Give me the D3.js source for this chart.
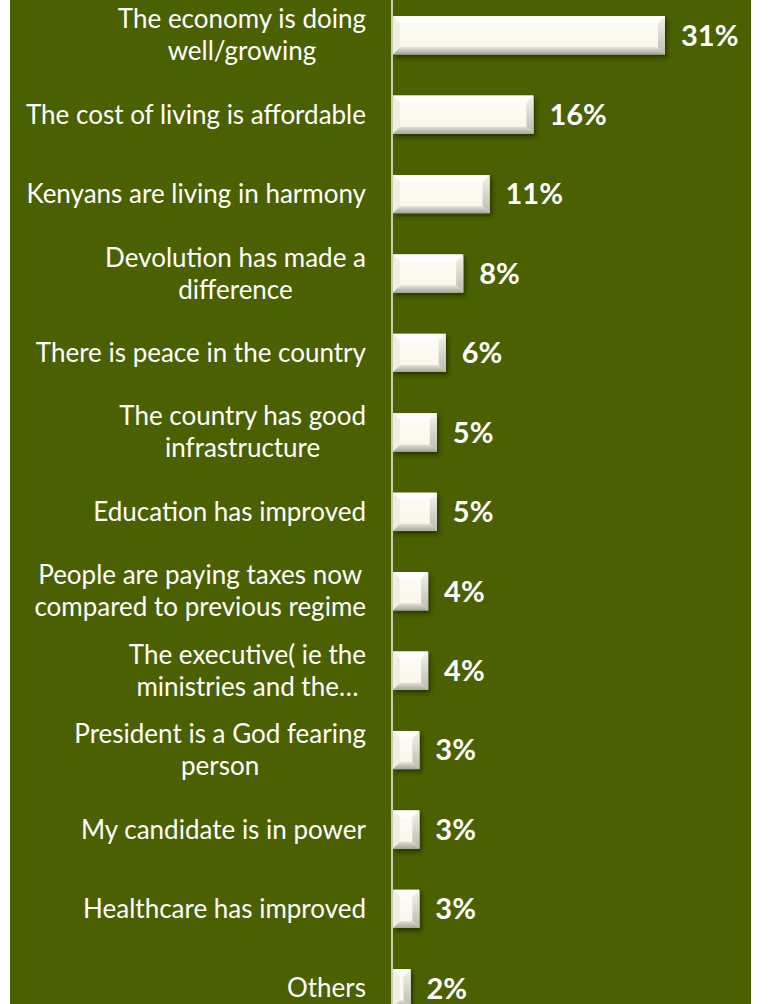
<!DOCTYPE html>
<html>
<head>
<meta charset="utf-8">
<script src="https://cdn.jsdelivr.net/npm/d3@7"></script>
<style>
  html, body { margin: 0; padding: 0; background: #ffffff; }
  svg { display: block; }
</style>
</head>
<body>
<svg id="chart" width="769" height="1004"></svg>
<script>
// Reasons given for the country heading in the right direction
const categories = [
  ["The economy is doing", "well/growing"],
  ["The cost of living is affordable"],
  ["Kenyans are living in harmony"],
  ["Devolution has made a", "difference"],
  ["There is peace in the country"],
  ["The country has good", "infrastructure"],
  ["Education has improved"],
  ["People are paying taxes now", "compared to previous regime"],
  ["The executive( ie the", "ministries and the\u2026"],
  ["President is a God fearing", "person"],
  ["My candidate is in power"],
  ["Healthcare has improved"],
  ["Others"]
];
const values = [31, 16, 11, 8, 6, 5, 5, 4, 4, 3, 3, 3, 2];
const valueLabels = ["31%", "16%", "11%", "8%", "6%", "5%", "5%", "4%", "4%", "3%", "3%", "3%", "2%"];

const W = 769, H = 1004;
const panelLeft = 10, panelRight = 751;
const axisX = 392;
const labelRight = 366;

const svg = d3.select("#chart");
const defs = svg.append("defs");

// drop shadow under each bar
const shadow = defs.append("filter").attr("id", "barShadow")
  .attr("x", "-20%").attr("y", "-40%").attr("width", "140%").attr("height", "200%");
shadow.append("feDropShadow")
  .attr("dx", 2).attr("dy", 3).attr("stdDeviation", 2)
  .attr("flood-color", "#1f2a00").attr("flood-opacity", 0.75);

// bevel gradients
const gRight = defs.append("linearGradient").attr("id", "bevRight")
  .attr("x1", 0).attr("y1", 0).attr("x2", 0).attr("y2", 1);
gRight.append("stop").attr("offset", "0%").attr("stop-color", "#f4f2ea");
gRight.append("stop").attr("offset", "100%").attr("stop-color", "#bdbab0");
const gBottom = defs.append("linearGradient").attr("id", "bevBottom")
  .attr("x1", 0).attr("y1", 0).attr("x2", 0).attr("y2", 1);
gBottom.append("stop").attr("offset", "0%").attr("stop-color", "#e4e1d6");
gBottom.append("stop").attr("offset", "100%").attr("stop-color", "#a8a59a");
const gFace = defs.append("linearGradient").attr("id", "face")
  .attr("x1", 0).attr("y1", 0).attr("x2", 0).attr("y2", 1);
gFace.append("stop").attr("offset", "0%").attr("stop-color", "#fdfcf6");
gFace.append("stop").attr("offset", "100%").attr("stop-color", "#f8f5ea");

// background panel
svg.append("rect")
  .attr("x", panelLeft).attr("y", 0)
  .attr("width", panelRight - panelLeft).attr("height", H)
  .attr("fill", "#4b6000");

const x = d3.scaleLinear().domain([0, 31]).range([axisX + 1, 665]);
const y = d3.scaleBand()
  .domain(d3.range(categories.length))
  .range([-4.5, 1028])
  .paddingInner(0.52)
  .paddingOuter(0.26);

const bars = svg.append("g");
const bevel = 7;

values.forEach((v, i) => {
  const x0 = x(0), x1 = x(v);
  const y0 = y(i), y1 = y(i) + y.bandwidth();
  const b = Math.min(bevel, (x1 - x0) / 2);
  const g = bars.append("g").attr("filter", "url(#barShadow)");
  g.append("rect").attr("x", x0).attr("y", y0)
    .attr("width", x1 - x0).attr("height", y1 - y0).attr("fill", "url(#face)");
  const poly = (pts, fill) => g.append("polygon")
    .attr("points", pts.map(p => p.join(",")).join(" ")).attr("fill", fill);
  poly([[x0, y0], [x1, y0], [x1 - b, y0 + b], [x0 + b, y0 + b]], "#ffffff");
  poly([[x0, y0], [x0 + b, y0 + b], [x0 + b, y1 - b], [x0, y1]], "#f1eee3");
  poly([[x1, y0], [x1 - b, y0 + b], [x1 - b, y1 - b], [x1, y1]], "url(#bevRight)");
  poly([[x0, y1], [x1, y1], [x1 - b, y1 - b], [x0 + b, y1 - b]], "url(#bevBottom)");
});

// vertical category axis line
svg.append("line")
  .attr("x1", axisX).attr("x2", axisX)
  .attr("y1", 0).attr("y2", H)
  .attr("stroke", "#c9cfae").attr("stroke-width", 2);

// value labels
svg.append("g").selectAll("text")
  .data(values)
  .join("text")
  .attr("x", d => x(d) + 16)
  .attr("y", (d, i) => y(i) + y.bandwidth() / 2)
  .attr("dy", "0.36em")
  .attr("fill", "#ffffff")
  .attr("font-family", "Lato, 'Open Sans', sans-serif")
  .attr("font-weight", "bold")
  .attr("font-size", 29)
  .text((d, i) => valueLabels[i]);

// category labels: each block of lines is centred on itself and right-aligned to the axis
const lineGap = 32;
const lab = svg.append("g")
  .attr("fill", "#ffffff")
  .attr("font-family", "Lato, 'Open Sans', sans-serif")
  .attr("font-size", 26);

categories.forEach((lines, i) => {
  const cy = y(i) + y.bandwidth() / 2;
  const top = cy - (lines.length - 1) * lineGap / 2;
  const texts = lines.map((t, j) => lab.append("text")
    .attr("y", top + j * lineGap)
    .attr("dy", "0.35em")
    .attr("text-anchor", "middle")
    .text(t));
  const maxW = d3.max(texts, s => s.node().getComputedTextLength());
  texts.forEach(s => s.attr("x", labelRight - maxW / 2));
});
</script>
</body>
</html>
